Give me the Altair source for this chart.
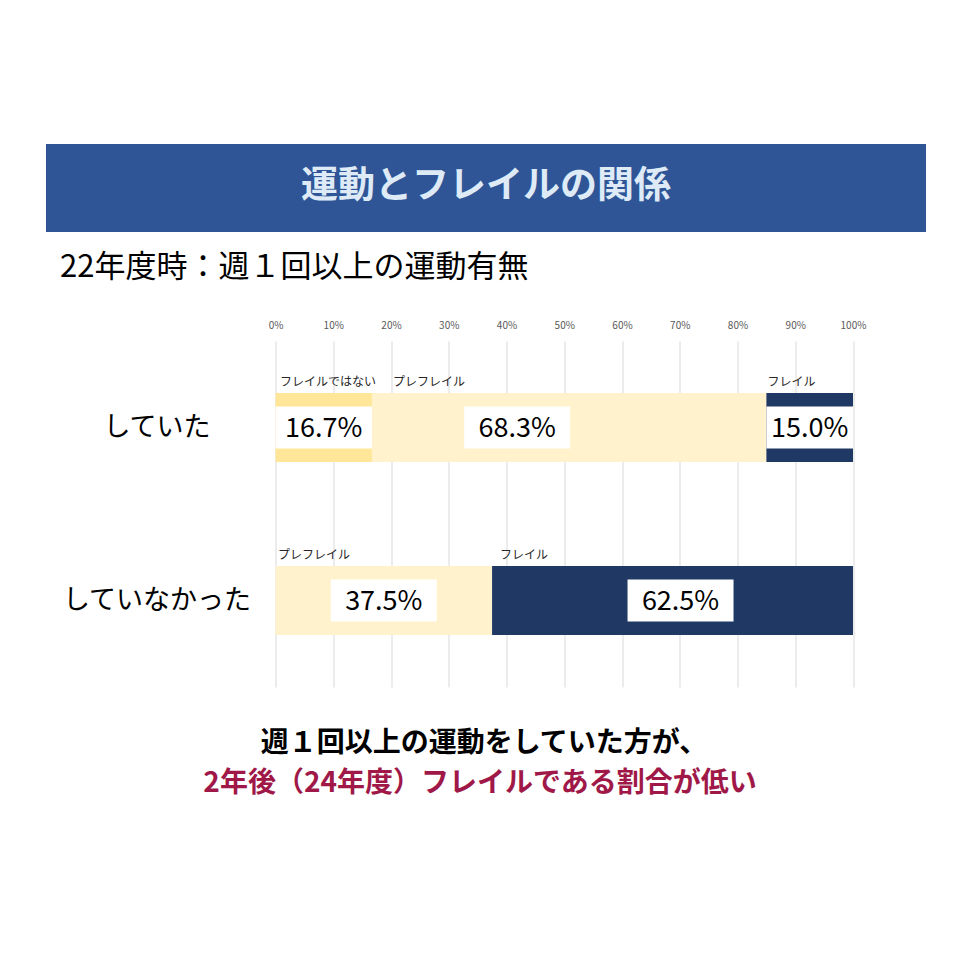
import altair as alt
import pandas as pd

# ---- data ----
categories = ["していた", "していなかった"]
segments = ["フレイルではない", "プレフレイル", "フレイル"]
values_active = [16.7, 68.3, 15.0]      # していた
values_inactive = [0.0, 37.5, 62.5]     # していなかった
tick_values = [0, 10, 20, 30, 40, 50, 60, 70, 80, 90, 100]

title_text = "運動とフレイルの関係"
subtitle_text = "22年度時：週１回以上の運動有無"
note_line1 = "週１回以上の運動をしていた方が、"
note_line2 = "2年後（24年度）フレイルである割合が低い"

# ---- layout / style (not data) ----
colors = ["#FFE699", "#FFF2CC", "#203864"]
FONT = "Noto Sans CJK JP"
PLOT_W, PLOT_H = 577.5, 346
PAD_L, PAD_T = 275.5, 341
PX = PLOT_W / 100.0
# label offsets in px (value label shift, small segment-name shift)
value_shift = {("していた", "プレフレイル"): -52, ("していなかった", "フレイル"): 8}
name_shift = {("していた", "フレイルではない"): 4.5, ("していた", "プレフレイル"): 21,
              ("していた", "フレイル"): 1, ("していなかった", "プレフレイル"): 2.5,
              ("していなかった", "フレイル"): 8}
BOX_HALF = 53 / PX

rows = []
for cat, vals in zip(categories, [values_active, values_inactive]):
    start = 0.0
    for seg, v in zip(segments, vals):
        if v <= 0:
            continue
        end = start + v
        mid = (start + end) / 2 + value_shift.get((cat, seg), 0) / PX
        rows.append({
            "cat": cat, "seg": seg, "start": start, "end": end, "value": v,
            "label": f"{v:.1f}%",
            "lx": mid,
            "bx1": max(start, mid - BOX_HALF), "bx2": min(end, mid + BOX_HALF),
            "nx": start + name_shift.get((cat, seg), 0) / PX,
        })
        start = end
df = pd.DataFrame(rows)

xscale = alt.Scale(domain=[0, 100], nice=False, zero=False)
yscale = alt.Scale(domain=categories, paddingInner=0.6, paddingOuter=0.3)
cscale = alt.Scale(domain=segments, range=colors)

x_axis = alt.Axis(orient="top", values=tick_values, labelExpr="datum.value + '%'",
                  domain=False, ticks=False, grid=True, gridColor="#D9D9D9",
                  labelFontSize=10, labelColor="#595959", labelFont=FONT,
                  labelPadding=11, labelFlush=False, title=None)
y_axis = alt.Axis(orient="left", domain=False, ticks=False, grid=False,
                  labelFontSize=27, labelColor="#000000", labelFont=FONT,
                  labelAlign="center", labelBaseline="middle", labelPadding=119,
                  labelLimit=0, title=None)

base = alt.Chart(df)

bars = base.mark_bar().encode(
    x=alt.X("start:Q", scale=xscale, axis=x_axis),
    x2="end:Q",
    y=alt.Y("cat:N", scale=yscale, axis=y_axis, sort=categories),
    color=alt.Color("seg:N", scale=cscale, legend=None),
)

boxes = base.mark_bar(height=42, color="white").encode(
    x=alt.X("bx1:Q", scale=xscale),
    x2="bx2:Q",
    y=alt.Y("cat:N", scale=yscale, sort=categories),
)

vlabels = base.mark_text(fontSize=27, font=FONT, color="#000000",
                         align="center", baseline="middle", dy=1).encode(
    x=alt.X("lx:Q", scale=xscale),
    y=alt.Y("cat:N", scale=yscale, sort=categories),
    text="label:N",
)

names = base.mark_text(fontSize=12, font=FONT, color="#262626",
                       align="left", baseline="middle", dy=-46).encode(
    x=alt.X("nx:Q", scale=xscale),
    y=alt.Y("cat:N", scale=yscale, sort=categories),
    text="seg:N",
)

# ---- annotations (title bar, subtitle, note) ----
tdf = pd.DataFrame({"t": [title_text]})
title_bar = alt.Chart(tdf).mark_rect(color="#2F5597").encode(
    x=alt.value(46 - PAD_L), x2=alt.value(926 - PAD_L),
    y=alt.value(144 - PAD_T), y2=alt.value(232 - PAD_T),
)
title_txt = alt.Chart(tdf).mark_text(fontSize=37, font=FONT, fontWeight="bold",
                                     color="#DEEBF7", align="center",
                                     baseline="middle").encode(
    x=alt.value(486 - PAD_L), y=alt.value(187 - PAD_T), text="t:N",
)
sub_txt = alt.Chart(pd.DataFrame({"t": [subtitle_text]})).mark_text(
    fontSize=31, font=FONT, color="#000000", align="left", baseline="middle").encode(
    x=alt.value(60 - PAD_L), y=alt.value(268 - PAD_T), text="t:N",
)
note1 = alt.Chart(pd.DataFrame({"t": [note_line1]})).mark_text(
    fontSize=28, font=FONT, fontWeight="bold", color="#000000",
    align="center", baseline="middle").encode(
    x=alt.value(484 - PAD_L), y=alt.value(744 - PAD_T), text="t:N",
)
note2 = alt.Chart(pd.DataFrame({"t": [note_line2]})).mark_text(
    fontSize=28, font=FONT, fontWeight="bold", color="#A01848",
    align="center", baseline="middle").encode(
    x=alt.value(480 - PAD_L), y=alt.value(784 - PAD_T), text="t:N",
)

chart = alt.layer(
    bars, boxes, vlabels, names, title_bar, title_txt, sub_txt, note1, note2
).properties(
    width=PLOT_W, height=PLOT_H,
    padding={"left": PAD_L, "top": PAD_T, "right": 960 - PAD_L - PLOT_W,
             "bottom": 960 - PAD_T - PLOT_H},
    autosize=alt.AutoSizeParams(type="none"),
    background="white",
).configure_view(stroke=None)

chart.save("out.html", embed_options={"renderer": "svg", "actions": False})
